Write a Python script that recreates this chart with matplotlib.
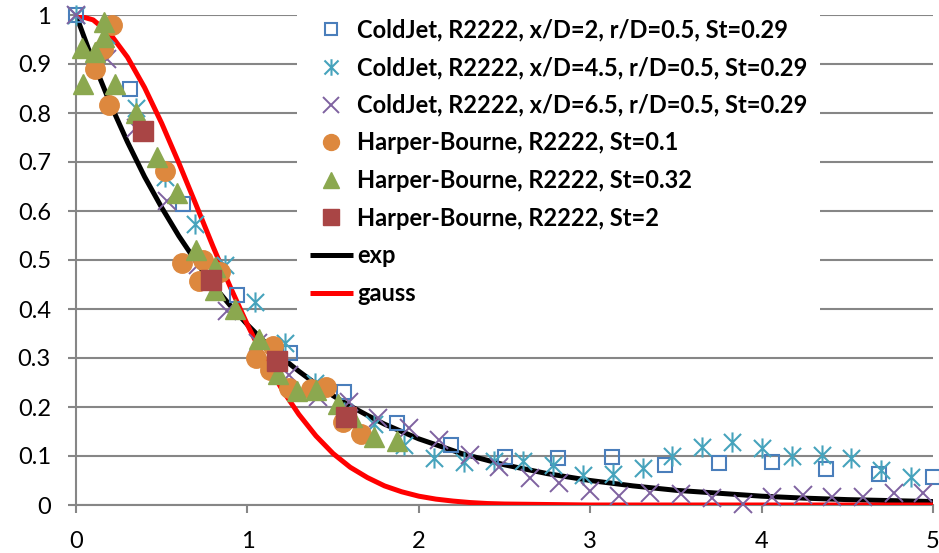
import matplotlib
matplotlib.use('Agg')

import matplotlib.pyplot as plt
from matplotlib.path import Path

# ColdJet, x/D=2 (open squares)
cj2_x = [0.0, 0.3125, 0.625, 0.9375, 1.25, 1.5625, 1.875, 2.1875, 2.5, 2.8125,
         3.125, 3.4375, 3.75, 4.0625, 4.375, 4.6875, 5.0]
cj2_y = [1.0, 0.85, 0.614, 0.429, 0.31, 0.23, 0.168, 0.122, 0.098, 0.096,
         0.098, 0.082, 0.085, 0.088, 0.073, 0.063, 0.057]

# ColdJet, x/D=4.5 (asterisks)
cj45_x = [0.0, 0.174, 0.348, 0.522, 0.696, 0.870, 1.044, 1.218, 1.392, 1.566,
          1.740, 1.914, 2.088, 2.262, 2.436, 2.610, 2.784, 2.958, 3.132, 3.306,
          3.480, 3.654, 3.828, 4.002, 4.176, 4.350, 4.524, 4.698, 4.872]
cj45_y = [1.0, 0.96, 0.81, 0.67, 0.573, 0.49, 0.414, 0.33, 0.25, 0.19,
          0.165, 0.122, 0.096, 0.088, 0.09, 0.09, 0.082, 0.061, 0.064, 0.075,
          0.10, 0.118, 0.129, 0.117, 0.10, 0.102, 0.095, 0.071, 0.057]

# ColdJet, x/D=6.5 (crosses)
cj65_x = [0.0, 0.18, 0.35, 0.53, 0.71, 0.88, 1.06, 1.24, 1.41, 1.59,
          1.76, 1.94, 2.12, 2.30, 2.47, 2.65, 2.82, 3.00, 3.17, 3.35,
          3.53, 3.71, 3.89, 4.06, 4.24, 4.41, 4.59, 4.77, 4.94]
cj65_y = [1.0, 0.91, 0.77, 0.62, 0.49, 0.395, 0.33, 0.265, 0.22, 0.21,
          0.178, 0.157, 0.133, 0.102, 0.078, 0.055, 0.044, 0.029, 0.018, 0.024,
          0.022, 0.014, 0.002, 0.017, 0.02, 0.016, 0.017, 0.024, 0.024]

# Harper-Bourne St=0.1 (circles)
hb01_x = [0.11, 0.16, 0.19, 0.21, 0.52, 0.62, 0.72, 0.74, 0.84, 1.05,
          1.15, 1.13, 1.24, 1.37, 1.46, 1.56, 1.66]
hb01_y = [0.89, 0.93, 0.816, 0.98, 0.682, 0.494, 0.457, 0.50, 0.476, 0.30,
          0.325, 0.275, 0.238, 0.236, 0.241, 0.17, 0.145]

# Harper-Bourne St=0.32 (triangles)
hb032_x = [0.035, 0.04, 0.11, 0.165, 0.165, 0.23, 0.35, 0.47, 0.59, 0.70,
           0.81, 0.81, 0.93, 1.07, 1.18, 1.29, 1.40, 1.53, 1.61, 1.74, 1.87]
hb032_y = [0.933, 0.86, 0.925, 0.985, 0.955, 0.86, 0.80, 0.71, 0.637, 0.52,
           0.486, 0.438, 0.40, 0.338, 0.268, 0.233, 0.235, 0.206, 0.18, 0.138, 0.13]

# Harper-Bourne St=2 (filled squares)
hb2_x = [0.39, 0.785, 1.175, 1.575]
hb2_y = [0.763, 0.459, 0.293, 0.18]

# model curves
exp_x = [0.0, 0.1, 0.2, 0.3, 0.4, 0.5, 0.6, 0.7, 0.8, 0.9, 1.0, 1.1, 1.2, 1.3,
         1.4, 1.5, 1.6, 1.7, 1.8, 1.9, 2.0, 2.25, 2.5, 2.75, 3.0, 3.25, 3.5,
         3.75, 4.0, 4.25, 4.5, 4.75, 5.0]
exp_y = [1.0, 0.905, 0.819, 0.741, 0.670, 0.607, 0.549, 0.497, 0.449, 0.407,
         0.368, 0.333, 0.301, 0.273, 0.247, 0.223, 0.202, 0.183, 0.165, 0.150,
         0.135, 0.105, 0.082, 0.064, 0.050, 0.039, 0.030, 0.024, 0.018, 0.014,
         0.011, 0.009, 0.007]

gauss_x = [0.0, 0.1, 0.2, 0.3, 0.4, 0.5, 0.6, 0.7, 0.8, 0.9, 1.0, 1.1, 1.2,
           1.3, 1.4, 1.5, 1.6, 1.7, 1.8, 1.9, 2.0, 2.1, 2.2, 2.3, 2.4, 2.5,
           3.0, 3.5, 4.0, 4.5, 5.0]
gauss_y = [1.0, 0.990, 0.961, 0.914, 0.852, 0.779, 0.698, 0.613, 0.527, 0.445,
           0.368, 0.298, 0.237, 0.185, 0.141, 0.105, 0.077, 0.056, 0.039, 0.027,
           0.018, 0.012, 0.008, 0.005, 0.003, 0.002, 0.0, 0.0, 0.0, 0.0, 0.0]

labels = ['ColdJet, R2222, x/D=2, r/D=0.5, St=0.29',
          'ColdJet, R2222, x/D=4.5, r/D=0.5, St=0.29',
          'ColdJet, R2222, x/D=6.5, r/D=0.5, St=0.29',
          'Harper-Bourne, R2222, St=0.1',
          'Harper-Bourne, R2222, St=0.32',
          'Harper-Bourne, R2222, St=2',
          'exp', 'gauss']

# six-armed asterisk: vertical bar plus an x
asterisk = Path([(0, -1), (0, 1), (-0.85, -0.85), (0.85, 0.85), (-0.85, 0.85), (0.85, -0.85)],
                [Path.MOVETO, Path.LINETO, Path.MOVETO, Path.LINETO, Path.MOVETO, Path.LINETO])

grey = '#868686'

fig = plt.figure(figsize=(9.39, 5.53), dpi=100)
ax = fig.add_axes([76 / 939, 48 / 553, 857 / 939, 490 / 553])

ax.plot(exp_x, exp_y, color='black', lw=3.6, solid_capstyle='butt', zorder=3, label=labels[6])
ax.plot(gauss_x, gauss_y, color='#FF0000', lw=3.6, solid_capstyle='butt', zorder=3, label=labels[7])

ax.plot(cj2_x, cj2_y, ls='none', marker='s', ms=10, mfc='none', mec='#4A7EBB', mew=1.5,
        clip_on=False, zorder=4, label=labels[0])
ax.plot(cj45_x, cj45_y, ls='none', marker=asterisk, ms=14.5, mfc='none', mec='#46A3BC', mew=1.5,
        clip_on=False, zorder=4, label=labels[1])
ax.plot(cj65_x, cj65_y, ls='none', marker='x', ms=13.5, mec='#7F62A0', mew=1.4,
        clip_on=False, zorder=4, label=labels[2])
ax.plot(hb01_x, hb01_y, ls='none', marker='o', ms=14, mfc='#DD883E', mec='#DD883E',
        clip_on=False, zorder=5, label=labels[3])
ax.plot(hb032_x, hb032_y, ls='none', marker='^', ms=14, mfc='#8BA84F', mec='#8BA84F',
        clip_on=False, zorder=5, label=labels[4])
ax.plot(hb2_x, hb2_y, ls='none', marker='s', ms=14, mfc='#A94545', mec='#A94545',
        clip_on=False, zorder=5, label=labels[5])

ax.set_xlim(0, 5)
ax.set_ylim(0, 1)
ax.set_xticks([0, 1, 2, 3, 4, 5])
ax.set_yticks([0, 0.1, 0.2, 0.3, 0.4, 0.5, 0.6, 0.7, 0.8, 0.9, 1])
ax.set_yticklabels(['0', '0.1', '0.2', '0.3', '0.4', '0.5', '0.6', '0.7', '0.8', '0.9', '1'])
ax.yaxis.grid(True, color=grey, lw=1.5)
ax.set_axisbelow(True)
for side in ['top', 'right']:
    ax.spines[side].set_visible(False)
for side in ['left', 'bottom']:
    ax.spines[side].set_color(grey)
    ax.spines[side].set_linewidth(1.5)
ax.tick_params(axis='both', colors=grey, width=1.5, length=6, labelsize=17, labelcolor='black')
ax.tick_params(axis='y', pad=12)
ax.tick_params(axis='x', pad=13)
for t in ax.get_xticklabels() + ax.get_yticklabels():
    t.set_family(['Lato', 'DejaVu Sans'])

handles, labs = ax.get_legend_handles_labels()
order = [2, 3, 4, 5, 6, 7, 0, 1]
leg = ax.legend([handles[i] for i in order], [labs[i] for i in order],
                loc='upper left', bbox_to_anchor=(297 / 939, 0.99), bbox_transform=fig.transFigure,
                prop={'family': ['Lato', 'DejaVu Sans'], 'weight': 'bold', 'size': 17},
                frameon=True, facecolor='white', edgecolor='none', framealpha=1, fancybox=False,
                borderpad=0.55, borderaxespad=0, handlelength=1.82, handletextpad=0.17,
                labelspacing=0.62, markerscale=0.82, numpoints=1)
leg.set_zorder(6)

fig.savefig('out.png', dpi=100)
